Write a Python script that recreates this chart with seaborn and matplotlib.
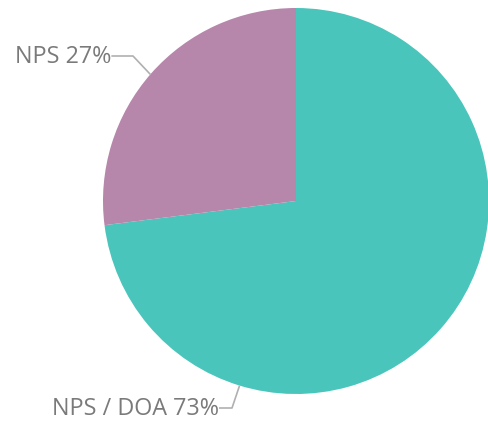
import numpy as np
import matplotlib
matplotlib.use('Agg')
import matplotlib.pyplot as plt
import seaborn as sns

# 데이터
labels = ['NPS / DOA', 'NPS']
values = [73, 27]
colors = ['#4AC5BB', '#B686AB']

sns.set_theme(style='white')
plt.rcParams['font.family'] = ['Open Sans', 'DejaVu Sans']

fig = plt.figure(figsize=(4.88, 4.23), dpi=100)
ax = fig.add_axes([0, 0, 1, 1])

cx, cy, r = 296, 222, 193
ax.pie(values, colors=colors, startangle=90, counterclock=False,
       center=(cx, cy), radius=r, frame=True,
       wedgeprops=dict(linewidth=0))
ax.set_xlim(0, 488)
ax.set_ylim(0, 423)
ax.set_aspect('equal')
ax.axis('off')

# 라벨 + 리더 라인 (각도는 12시 방향 기준 시계방향)
label_cfg = [
    # (text pos, elbow x, anchor angle)
    ((52, 14), 232, 197),
    ((15, 366), 133, 311),
]
for (lbl, v), (tpos, ex, ang) in zip(zip(labels, values), label_cfg):
    t = np.deg2rad(90 - ang)
    axp, ayp = cx + r * np.cos(t), cy + r * np.sin(t)
    txt = ax.text(tpos[0], tpos[1], f'{lbl} {v}%', fontsize=16.8,
                  color='#7a7a7a', va='center', ha='left')
    fig.canvas.draw()
    bb = txt.get_window_extent().transformed(ax.transData.inverted())
    ax.plot([bb.x1, ex, axp], [tpos[1] + 1, tpos[1] + 1, ayp],
            color='#b0b0b0', lw=1.2, solid_capstyle='butt')

fig.savefig('out.png', dpi=100)
